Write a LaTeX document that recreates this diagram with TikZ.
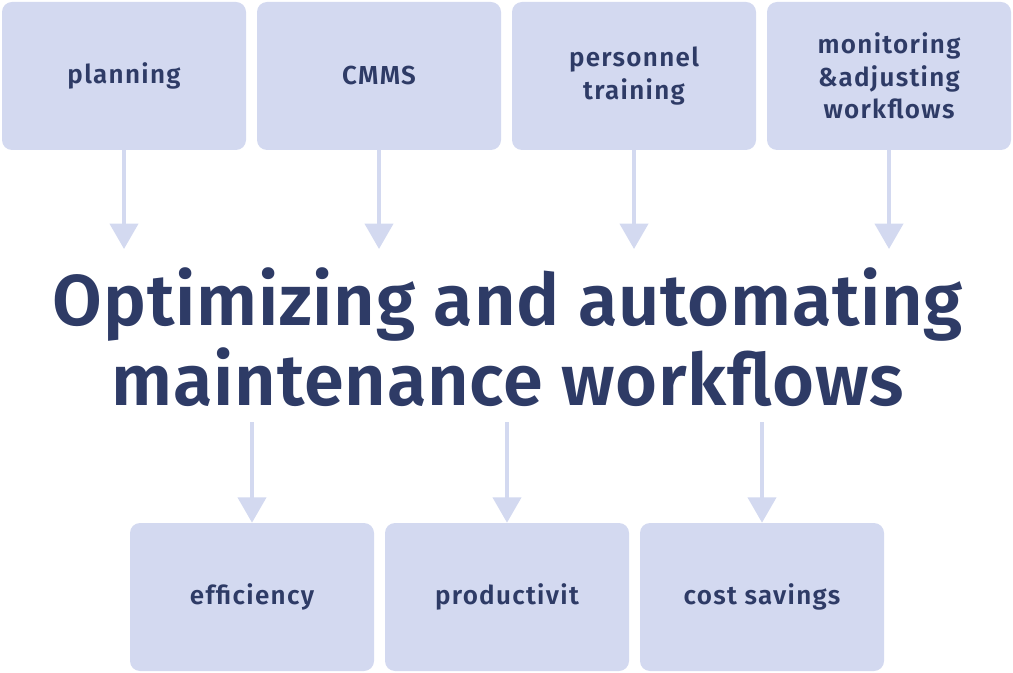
\documentclass[tikz,border=0pt]{standalone}
\usepackage{fontspec}
\setmainfont{Fira Sans}[BoldFont={Fira Sans SemiBold}]
\usetikzlibrary{arrows.meta}
\definecolor{boxfill}{HTML}{D3D9F0}
\definecolor{navy}{HTML}{2E3B66}
\begin{document}
\begin{tikzpicture}
[x=0.75pt, y=-0.75pt, text=navy]
\tikzstyle{topic}=[rectangle, rounded corners=7.5pt, fill=boxfill, minimum width=183pt, minimum height=111pt, align=center, inner sep=0pt, font=\fontsize{19.5}{24.5}\selectfont\bfseries\addfontfeature{LetterSpace=5}]
\tikzstyle{flow}=[line width=3pt, draw=boxfill, -{Triangle[width=21pt, length=19pt]}]
\useasboundingbox (0,0) rectangle (1013,673);

% inputs
\node[topic]	(plan)	at (124,76)	{planning};
\node[topic]	(cmms)	at (379,76)	{CMMS};
\node[topic]	(train)	at (634,76)	{personnel\\training};
\node[topic]	(monit)	at (889,76)	{monitoring\\\&adjusting\\workflows};

% goal
\node[align=center, font=\fontsize{54}{60}\selectfont\bfseries\addfontfeature{LetterSpace=1.1}] (goal) at (508,337) {Optimizing and automating\\maintenance workflows};

% outcomes
\node[topic]	(eff)	at (252,597)	{efficiency};
\node[topic]	(prod)	at (507,597)	{productivit};
\node[topic]	(cost)	at (762,597)	{cost savings};

\coordinate (planE)  at (124,249);
\coordinate (cmmsE)  at (379,249);
\coordinate (trainE) at (634,249);
\coordinate (monitE) at (889,249);
\coordinate (effS)   at (252,422);
\coordinate (prodS)  at (507,422);
\coordinate (costS)  at (762,422);

\draw[flow]	(plan.south)--(planE);
\draw[flow]	(cmms.south)--(cmmsE);
\draw[flow]	(train.south)--(trainE);
\draw[flow]	(monit.south)--(monitE);
\draw[flow]	(effS)--(eff.north);
\draw[flow]	(prodS)--(prod.north);
\draw[flow]	(costS)--(cost.north);
\end{tikzpicture}
\end{document}
